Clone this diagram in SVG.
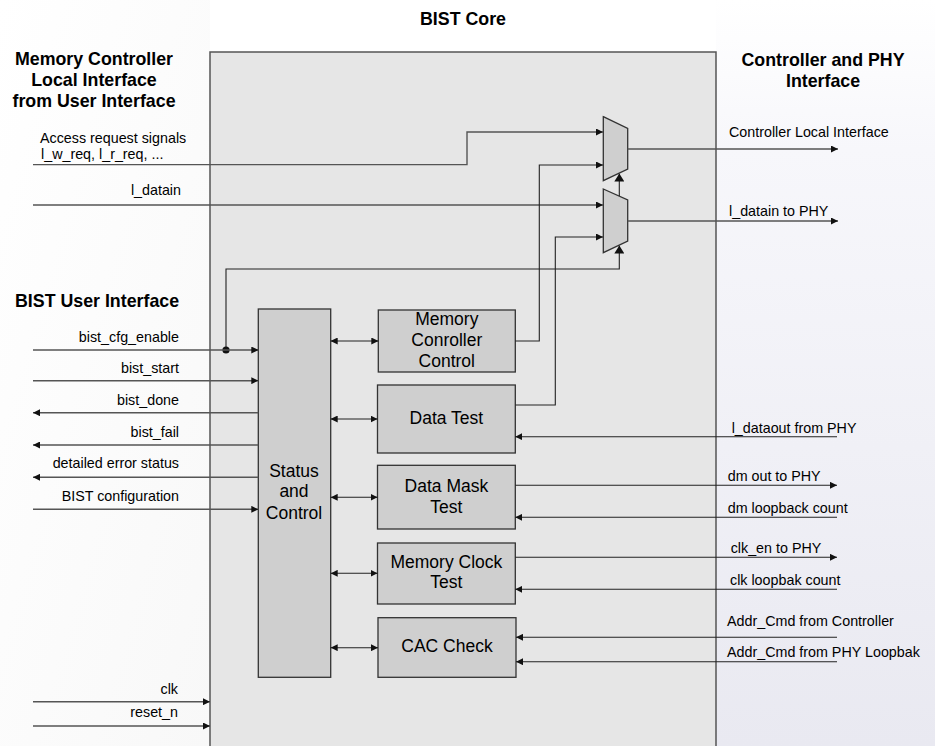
<svg xmlns="http://www.w3.org/2000/svg" width="935" height="746" viewBox="0 0 935 746">
  <defs>
    <linearGradient id="leftBg" x1="0" y1="0" x2="1" y2="1">
      <stop offset="0" stop-color="#ffffff"/>
      <stop offset="1" stop-color="#f8f8f8"/>
    </linearGradient>
    <linearGradient id="rightBg" x1="0" y1="0" x2="0" y2="1">
      <stop offset="0" stop-color="#ffffff"/>
      <stop offset="0.2" stop-color="#f7f7fb"/>
      <stop offset="1" stop-color="#e9e9f1"/>
    </linearGradient>
    <marker id="arr" viewBox="0 0 7 7" refX="7" refY="3.5" markerWidth="7" markerHeight="7" markerUnits="userSpaceOnUse" orient="auto-start-reverse">
      <path d="M0,0 L7,3.5 L0,7 z" fill="#111"/>
    </marker>
    <marker id="arrUp" viewBox="0 0 8 10" refX="8" refY="5" markerWidth="8" markerHeight="10" markerUnits="userSpaceOnUse" orient="auto">
      <path d="M0,0 L8,5 L0,10 z" fill="#111"/>
    </marker>
  </defs>
  <style>
    .hdr { font-family: "Liberation Sans", Arial, sans-serif; font-weight: bold; font-size: 17.8px; fill: #000; }
    .sig { font-family: "Liberation Sans", Arial, sans-serif; font-size: 14.3px; fill: #000; }
    .blk { font-family: "Liberation Sans", Arial, sans-serif; font-size: 17.5px; fill: #000; text-anchor: middle; }
    .box { fill: #cfcfcf; stroke: #333; stroke-width: 1.3; }
    .wire { fill: none; stroke: #555; stroke-width: 1.4; }
    .wire-d { fill: none; stroke: #222; stroke-width: 1.1; }
  </style>

  <!-- backgrounds -->
  <rect x="0" y="0" width="935" height="746" fill="#ffffff"/>
  <rect x="0" y="0" width="210" height="746" fill="url(#leftBg)"/>
  <rect x="716" y="0" width="219" height="746" fill="url(#rightBg)"/>

  <!-- BIST core frame -->
  <g id="bist-core">
    <rect x="210" y="52" width="506" height="700" fill="#e6e6e6" stroke="#555" stroke-width="1.5"/>
    <text class="hdr" x="463" y="25" text-anchor="middle" font-size="18.5">BIST Core</text>
  </g>

  <!-- side headings -->
  <g id="heading-left" class="hdr" text-anchor="middle">
    <text x="94" y="65">Memory Controller</text>
    <text x="94" y="86">Local Interface</text>
    <text x="94" y="107">from User Interface</text>
  </g>
  <g id="heading-right" class="hdr" text-anchor="middle">
    <text x="823" y="66">Controller and PHY</text>
    <text x="823" y="87">Interface</text>
  </g>
  <g id="heading-bist-user">
    <text class="hdr" x="15" y="307">BIST User Interface</text>
  </g>

  <!-- multiplexers -->
  <g id="mux-ctrl">
    <polygon class="box" points="603.3,116.7 627.7,128.3 627.7,169 603.3,180.7"/>
  </g>
  <g id="mux-data">
    <polygon class="box" points="603.3,189 627.7,200 627.7,241 603.3,252.7"/>
  </g>

  <!-- functional blocks -->
  <g id="status-control">
    <rect class="box" x="258.3" y="309" width="72.4" height="368.3"/>
    <text class="blk" x="294" y="476.7">Status</text>
    <text class="blk" x="294" y="497.3">and</text>
    <text class="blk" x="294" y="519">Control</text>
  </g>
  <g id="memory-controller-control">
    <rect class="box" x="378.3" y="310" width="137" height="62"/>
    <text class="blk" x="446.8" y="325">Memory</text>
    <text class="blk" x="446.8" y="346">Conroller</text>
    <text class="blk" x="446.8" y="367.3">Control</text>
  </g>
  <g id="data-test">
    <rect class="box" x="377.5" y="385" width="137.8" height="68"/>
    <text class="blk" x="446.4" y="424">Data Test</text>
  </g>
  <g id="data-mask-test">
    <rect class="box" x="377.5" y="465.3" width="137.8" height="63.7"/>
    <text class="blk" x="446.4" y="491.7">Data Mask</text>
    <text class="blk" x="446.4" y="512.7">Test</text>
  </g>
  <g id="memory-clock-test">
    <rect class="box" x="377.5" y="543" width="137.8" height="61"/>
    <text class="blk" x="446.4" y="567.7">Memory Clock</text>
    <text class="blk" x="446.4" y="588.3">Test</text>
  </g>
  <g id="cac-check">
    <rect class="box" x="378" y="617.7" width="138" height="59.6"/>
    <text class="blk" x="447" y="652.3">CAC Check</text>
  </g>

  <!-- connectors -->
  <g id="connectors">
    <!-- local interface into muxes -->
    <polyline class="wire" points="33,164.6 467,164.6 467,132 603,132" marker-end="url(#arr)"/>
    <polyline class="wire" points="33,205 603,205" marker-end="url(#arr)"/>
    <polyline class="wire-d" points="515.3,341 539.3,341 539.3,165 603,165" marker-end="url(#arr)"/>
    <polyline class="wire-d" points="515.3,405 555.3,405 555.3,237 603,237" marker-end="url(#arr)"/>
    <!-- mux outputs -->
    <polyline class="wire" points="627.7,149 838,149" marker-end="url(#arr)"/>
    <polyline class="wire" points="627.7,221 838,221" marker-end="url(#arr)"/>
    <!-- mux selects -->
    <polyline class="wire-d" points="619.3,196 619.3,173.5" marker-end="url(#arrUp)"/>
    <polyline class="wire-d" points="226,350 226,269 619.3,269 619.3,245.5" marker-end="url(#arrUp)"/>
    <circle cx="226" cy="350" r="3.6" fill="#111"/>

    <!-- BIST user interface -->
    <polyline class="wire" points="33,350 258.3,350" marker-end="url(#arr)"/>
    <polyline class="wire" points="33,380.7 258.3,380.7" marker-end="url(#arr)"/>
    <polyline class="wire" points="258.3,412.7 33,412.7" marker-end="url(#arr)"/>
    <polyline class="wire" points="258.3,445 33,445" marker-end="url(#arr)"/>
    <polyline class="wire" points="258.3,477.3 33,477.3" marker-end="url(#arr)"/>
    <polyline class="wire" points="33,509.3 258.3,509.3" marker-end="url(#arr)"/>
    <polyline class="wire" points="33,701.7 210,701.7" marker-end="url(#arr)"/>
    <polyline class="wire" points="33,726 210,726" marker-end="url(#arr)"/>

    <!-- status and control to test blocks -->
    <polyline class="wire-d" points="330.7,341 378.3,341" marker-start="url(#arr)" marker-end="url(#arr)"/>
    <polyline class="wire-d" points="330.7,419 377.5,419" marker-start="url(#arr)" marker-end="url(#arr)"/>
    <polyline class="wire-d" points="330.7,497.3 377.5,497.3" marker-start="url(#arr)" marker-end="url(#arr)"/>
    <polyline class="wire-d" points="330.7,573.3 377.5,573.3" marker-start="url(#arr)" marker-end="url(#arr)"/>
    <polyline class="wire-d" points="330.7,647.7 378,647.7" marker-start="url(#arr)" marker-end="url(#arr)"/>

    <!-- PHY side -->
    <polyline class="wire-d" points="837,436.7 515.3,436.7" marker-end="url(#arr)"/>
    <polyline class="wire-d" points="515.3,485.3 837,485.3" marker-end="url(#arr)"/>
    <polyline class="wire-d" points="837,517.3 515.3,517.3" marker-end="url(#arr)"/>
    <polyline class="wire-d" points="515.3,557.3 837,557.3" marker-end="url(#arr)"/>
    <polyline class="wire-d" points="837,589.3 515.3,589.3" marker-end="url(#arr)"/>
    <polyline class="wire-d" points="837,637.3 516,637.3" marker-end="url(#arr)"/>
    <polyline class="wire-d" points="837,661.7 516,661.7" marker-end="url(#arr)"/>
  </g>

  <!-- signal labels -->
  <g id="labels-left" class="sig">
    <text x="40" y="143">Access request signals</text>
    <text x="41" y="159">l_w_req, l_r_req, ...</text>
    <g text-anchor="end">
      <text x="181" y="195">l_datain</text>
      <text x="179" y="341.7">bist_cfg_enable</text>
      <text x="179" y="373.3">bist_start</text>
      <text x="179" y="405">bist_done</text>
      <text x="179" y="436.7">bist_fail</text>
      <text x="179" y="468.3">detailed error status</text>
      <text x="179" y="500.7">BIST configuration</text>
      <text x="178" y="694">clk</text>
      <text x="178" y="717.3">reset_n</text>
    </g>
  </g>
  <g id="labels-right" class="sig">
    <text x="729" y="136.7">Controller Local Interface</text>
    <text x="729" y="216">l_datain to PHY</text>
    <text x="731.7" y="432.7">l_dataout from PHY</text>
    <text x="727.7" y="480.7">dm out to PHY</text>
    <text x="727.7" y="513">dm loopback count</text>
    <text x="730.7" y="552.7">clk_en to PHY</text>
    <text x="730" y="585">clk loopbak count</text>
    <text x="727" y="625.7">Addr_Cmd from Controller</text>
    <text x="727" y="657.3">Addr_Cmd from PHY Loopbak</text>
  </g>
</svg>
